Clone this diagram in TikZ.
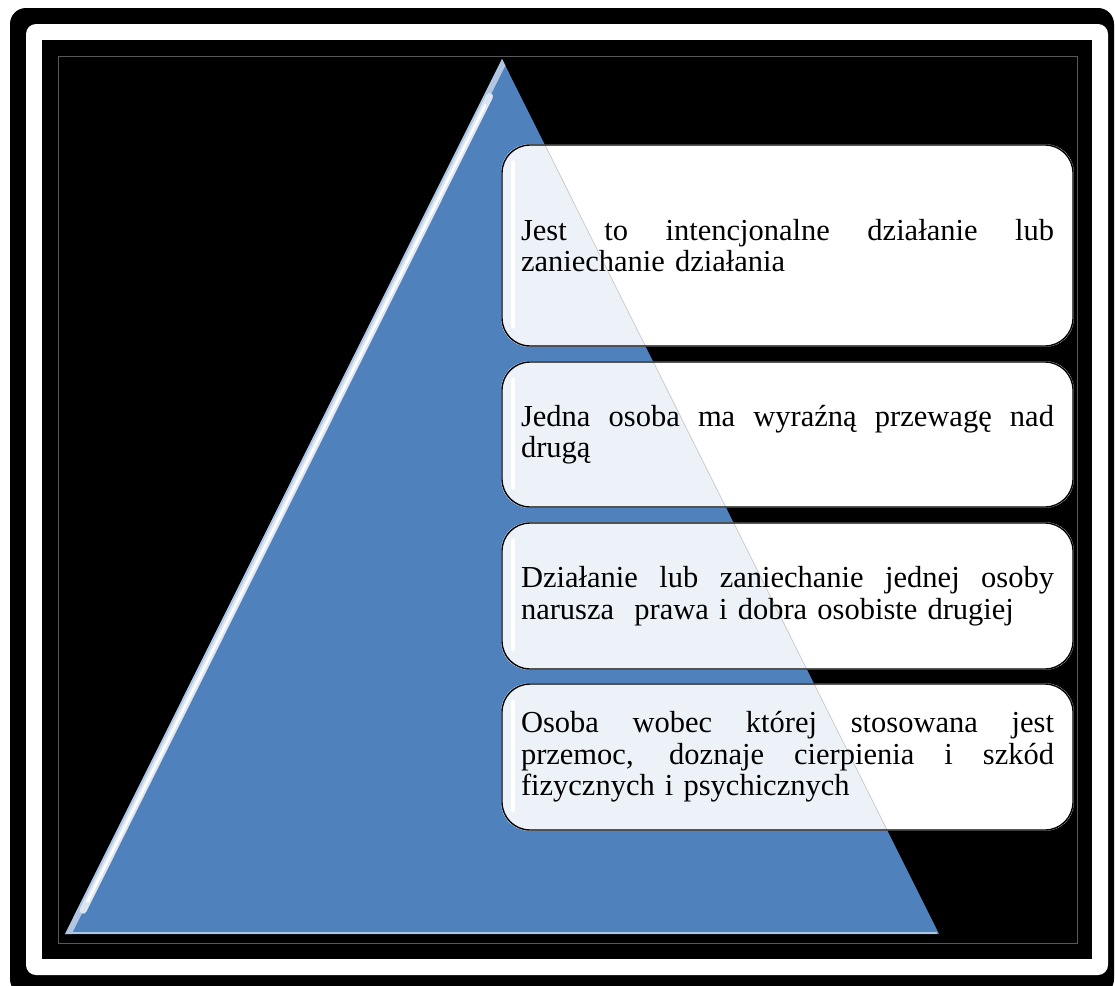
\documentclass[tikz,border=0pt]{standalone}
\usepackage{fontspec}
\setmainfont{Liberation Serif}
\usepackage{xcolor}
\usetikzlibrary{calc}
\pgfdeclarelayer{fondo}
\pgfdeclarelayer{medio}
\pgfsetlayers{fondo,medio,main}
\definecolor{azul}{HTML}{4F81BD}
\definecolor{azulclaro}{HTML}{EDF2F9}
\newcommand{\lineajust}[1]{\leavevmode\hbox to 533pt{\spaceskip=0.25em plus 1fil\relax #1}}

\begin{document}
\begin{tikzpicture}[x=1pt, y=-1pt,
  caja/.style={draw=black, line width=1.4pt, rounded corners=28pt, minimum width=571pt,
    text width=533pt, align=left, inner sep=0pt, font=\fontsize{30.5}{31.5}\selectfont}]
\useasboundingbox (0,0) rectangle (1115,985);
% Cajas
\node[caja, minimum height=201pt] (c1) at (787.5,245.5)
  {\lineajust{Jest to intencjonalne działanie lub}\\zaniechanie działania};
\node[caja, minimum height=145pt] (c2) at (787.5,434.5)
  {\lineajust{Jedna osoba ma wyraźną przewagę nad}\\drugą};
\node[caja, minimum height=146pt] (c3) at (787.5,596)
  {\lineajust{Działanie lub zaniechanie jednej osoby}\\narusza~ prawa i dobra osobiste drugiej};
\node[caja, minimum height=146pt] (c4) at (787.5,757)
  {\lineajust{Osoba wobec której stosowana jest}\\\lineajust{przemoc, doznaje cierpienia i szkód}\\fizycznych i psychicznych};
% Marco y piramide
\coordinate (cima) at (502,59);
\coordinate (izq) at (65,934);
\coordinate (der) at (939,934);
\begin{pgfonlayer}{fondo}
  \fill[white] (0,0) rectangle (1115,985);
  \fill[black, rounded corners=16pt] (10,8) rectangle (1114,995);
  \fill[white, rounded corners=10pt] (26,24) rectangle (1108,975);
  \fill[black] (42,40) rectangle (1092,959);
  \draw[black!65, line width=0.8pt] (58,56) rectangle (1077,943);
  \fill[azul] (izq) -- (cima) -- (der) -- cycle;
  \draw[azul!45!white, line width=2pt] ($(izq)+(7,-1)$) -- ($(der)+(-2,-1)$);
  \begin{scope}
    \clip (izq) -- (cima) -- (der) -- cycle;
    \draw[azul!45!white, line width=12pt] (izq) -- (cima);
    \draw[white!80!azul, line width=7pt, line cap=round] ($(izq)!0.03!(cima)+(5,2.5)$) -- ($(izq)!0.96!(cima)+(5,2.5)$);
    \draw[white, line width=2.5pt, line cap=round] ($(izq)!0.04!(cima)+(5,2.5)$) -- ($(izq)!0.95!(cima)+(5,2.5)$);
  \end{scope}
\end{pgfonlayer}
% Relleno de las cajas
\begin{pgfonlayer}{medio}
  \foreach \c in {c1,c2,c3,c4} {
    \fill[white, rounded corners=28pt] (\c.north west) rectangle (\c.south east);
    \begin{scope}
      \clip[rounded corners=28pt] (\c.north west) rectangle (\c.south east);
      \fill[azulclaro] (izq) -- (cima) -- (der) -- cycle;
      \draw[black!20, line width=0.8pt] (cima) -- (der);
    \end{scope}
    \draw[white, line width=4pt, line cap=round] ($(\c.north west)+(12,18)$) -- ($(\c.south west)+(12,-20)$);
  }
\end{pgfonlayer}
\end{tikzpicture}
\end{document}
